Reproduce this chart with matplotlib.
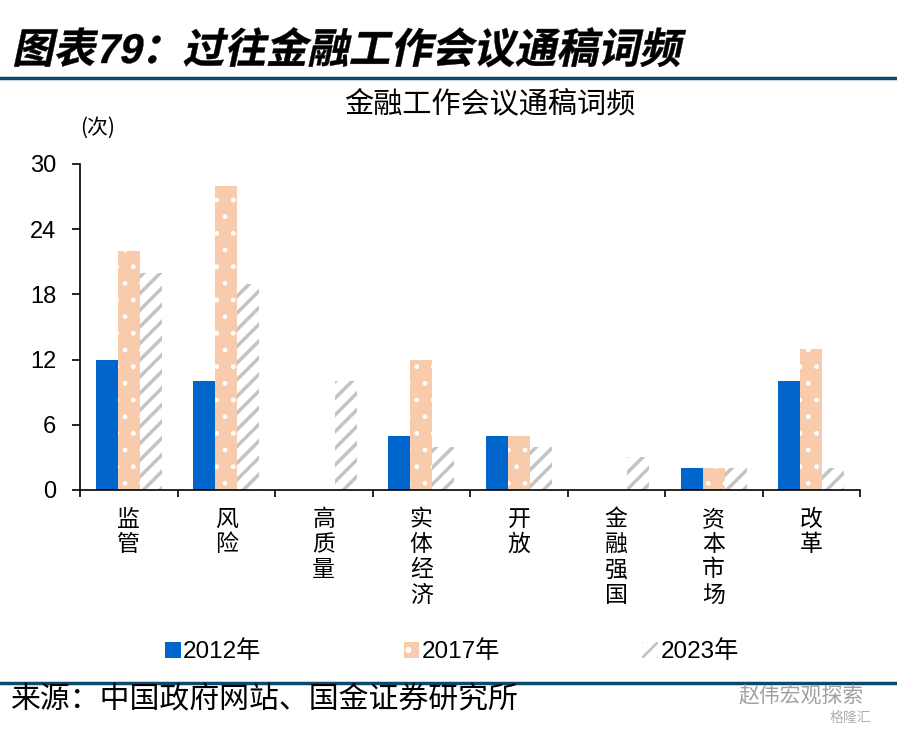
import matplotlib
matplotlib.use('Agg')
import matplotlib.pyplot as plt
import numpy as np
from matplotlib.textpath import TextPath
from matplotlib.patches import PathPatch
from matplotlib.font_manager import FontProperties
from matplotlib.transforms import Affine2D, IdentityTransform
from matplotlib.lines import Line2D

plt.rcParams['font.family'] = ['Liberation Sans', 'Noto Sans CJK SC']

# data
categories = ['监管', '风险', '高质量', '实体经济', '开放', '金融强国', '资本市场', '改革']
y2012 = [12, 10, 0, 5, 5, 0, 2, 10]
y2017 = [22, 28, 0, 12, 5, 0, 2, 13]
y2023 = [20, 19, 10, 4, 4, 3, 2, 2]
yticks = [0, 6, 12, 18, 24, 30]

blue = '#0066cc'
peach = '#f8cbad'
grey = '#c3c3c3'
dark = '#0b4a6b'

W, H = 897, 733
fig = plt.figure(figsize=(W / 100, H / 100), dpi=100)
ax = fig.add_axes([80 / W, 1 - 490 / H, 780 / W, 326 / H])

x = np.arange(len(categories))
bw = 0.226
ax.bar(x - bw, y2012, bw, color=blue, label='2012年')
with plt.rc_context({'hatch.linewidth': 1.0}):
    ax.bar(x, y2017, bw, color=peach, edgecolor='white', hatch='.', linewidth=0, label='2017年')
with plt.rc_context({'hatch.linewidth': 2.5}):
    ax.bar(x + bw, y2023, bw, color='white', edgecolor=grey, hatch='//', linewidth=0, label='2023年')

ax.set_xlim(-0.5, len(categories) - 0.5)
ax.set_ylim(0, 30)
ax.set_yticks(yticks)
ax.tick_params(axis='y', direction='out', length=6, width=1.2, pad=11, labelsize=17)
ax.set_xticks(x)
ax.set_xticklabels(['\n'.join(c) for c in categories], fontsize=16.5,
                   family='Noto Sans CJK SC', linespacing=1.12, va='top')
ax.set_xticks(np.arange(-0.5, len(categories)), minor=True)
ax.tick_params(axis='x', which='major', length=0, pad=13)
ax.tick_params(axis='x', which='minor', direction='out', length=5, width=1.2)
for s in ['top', 'right']:
    ax.spines[s].set_visible(False)
for s in ['left', 'bottom']:
    ax.spines[s].set_linewidth(1.2)

# title with a fake italic
tp = TextPath((0, 0), '图表79：过往金融工作会议通稿词频', size=41.5,
              prop=FontProperties(family=['Liberation Sans', 'Noto Sans CJK SC'], weight='bold'))
tr = Affine2D().skew_deg(12, 0).translate(12, H - 63) + IdentityTransform()
fig.patches.append(PathPatch(tp, transform=tr, color='black', lw=0.3))

fig.add_artist(Line2D([0, 1], [1 - 78 / H, 1 - 78 / H], color=dark, lw=2.5))
fig.add_artist(Line2D([0, 1], [1 - 683 / H, 1 - 683 / H], color=dark, lw=2.5))

fig.text(490 / W, 1 - 104 / H, '金融工作会议通稿词频', fontsize=21, ha='center', va='center',
         family='Noto Sans CJK SC')
fig.text(98 / W, 1 - 128 / H, '(次)', fontsize=15, ha='center', va='center',
         family='Noto Sans CJK SC')

with plt.rc_context({'hatch.linewidth': 2.0}):
    fig.legend(loc='center', bbox_to_anchor=(452 / W, 1 - 652 / H), ncol=3, frameon=False,
               fontsize=17.5, handlelength=0.65, handleheight=0.65, handletextpad=0.1,
               columnspacing=5.85)

fig.text(11 / W, 1 - 700 / H, '来源：中国政府网站、国金证券研究所', fontsize=21.5,
         ha='left', va='center', family='Noto Sans CJK SC')
fig.text(738 / W, 1 - 696 / H, '赵伟宏观探索', fontsize=15, ha='left', va='center',
         family='Noto Sans CJK SC', color='#a0a0a0')
fig.text(830 / W, 1 - 718 / H, '格隆汇', fontsize=10, ha='left', va='center',
         family='Noto Sans CJK SC', color='#b0b0b0')

fig.savefig('out.png', dpi=100)
